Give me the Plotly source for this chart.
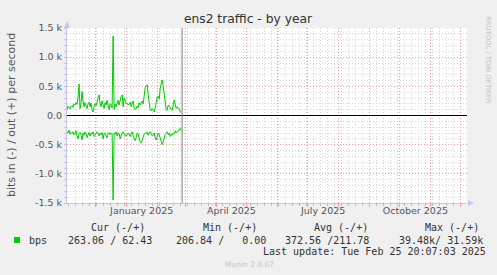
import plotly.graph_objects as go
import pandas as pd

# ---------------- data ----------------
start_date = "2024-11-03"
x_start = "2024-11-03"
x_end = "2025-12-07"
last_update = "2025-02-25 20:07:03"

bps_out = [100, 160, 130, 110, 150, 170, 140, 200, 180,
           220, 190, 300, 540,
           120, 200, 411, 250, 150, 220, 180,
           120, 200, 230, 150, 210, 100, 60, 150, 200, 170,
           250, 300, 354, 200, 150, 250, 180, 120, 220, 180,
           260, 150, 100, 200, 180, 130, 1365, 100, 200, 150,
           230, 260, 180, 290, 320, 354, 150, 300, 250,
           200, 210, 180, 200, 230, 150, 210, 250, 140, 100,
           120, 160, 130, 220, 180, 230, 250, 200, 350, 480,
           510, 525, 350, 200, 100, 80, 120, 90, 60, 130,
           200, 320, 330, 280, 470, 560, 611, 500, 350, 150,
           90, 100, 180, 170, 120, 100, 90, 200, 268, 180,
           120, 150, 130, 110, 60, 62]

bps_in = [280, 300, 250, 320, 290, 310, 280, 330, 300, 260,
          350, 400, 310, 290, 330, 420, 300, 340, 280, 310,
          380, 330, 290, 350, 300, 320, 280, 360, 330, 300,
          280, 310, 350, 300, 330, 290, 400, 320, 300, 350,
          380, 310, 290, 330, 300, 310, 1450, 300, 320, 280,
          350, 300, 310, 400, 330, 300, 280, 320, 350, 350,
          310, 300, 330, 360, 310, 280, 350, 400, 430, 380,
          300, 320, 400, 450, 474, 420, 360, 320, 300, 310,
          280, 340, 300, 280, 320, 350, 330, 300, 380, 420,
          360, 300, 330, 400, 460, 500, 450, 380, 320, 300,
          280, 330, 300, 360, 320, 340, 300, 310, 260, 300,
          280, 250, 240, 220, 263]

y_tick_vals = [-1500, -1000, -500, 0, 500, 1000, 1500]
y_tick_text = ["-1.5 k", "-1.0 k", "-0.5 k", "0.0", "0.5 k", "1.0 k", "1.5 k"]
x_label_vals = ["2025-01-16 12:00", "2025-04-16", "2025-07-16 12:00", "2025-10-16 12:00"]
x_label_text = ["January 2025", "April 2025", "July 2025", "October 2025"]

legend_headers = ["Cur (-/+)", "Min (-/+)", "Avg (-/+)", "Max (-/+)"]
legend_values = ["263.06 / 62.43", "206.84 /   0.00", "372.56 /211.78", "39.48k/ 31.59k"]
series_name = "bps"
last_update_text = "Last update: Tue Feb 25 20:07:03 2025"
version_text = "Munin 2.0.67"

dates = pd.date_range(start_date, periods=len(bps_out), freq="D")

# ---------------- style ----------------
W, H = 497, 275
L, R, T, B = 67, 467, 28, 203
GREEN = "#00CC00"
RED_GRID = "#EBA0A0"
GRAY_GRID = "#D6D6D6"
AXIS = "#C4C4F4"
DOT = "1px,2px"


def px(x):
    return (x - L) / (R - L)


def py(y):
    return (B - y) / (B - T)


fig = go.Figure()
fig.add_trace(go.Scatter(x=dates, y=bps_out, mode="lines",
                         line=dict(color=GREEN, width=1), showlegend=False,
                         hoverinfo="skip"))
fig.add_trace(go.Scatter(x=dates, y=[-v for v in bps_in], mode="lines",
                         line=dict(color=GREEN, width=1), showlegend=False,
                         hoverinfo="skip"))
fig.add_trace(go.Scatter(x=[], y=[], xaxis="x2", showlegend=False))

fig.update_layout(
    width=W, height=H,
    margin=dict(l=L, r=W - R, t=T, b=H - B, pad=0),
    paper_bgcolor="#F0F0F0", plot_bgcolor="#FFFFFF",
    font=dict(family="DejaVu Sans", color="#555555"),
    title=dict(text="ens2 traffic - by year", x=248 / W, y=1 - 19 / H,
               xanchor="center", yanchor="middle", xref="paper" if False else "container",
               font=dict(size=12.3, color="#333333", family="DejaVu Sans")),
    xaxis=dict(type="date", range=[x_start, x_end],
               tick0="2024-11-01", dtick="M1",
               showgrid=True, gridcolor=RED_GRID, griddash=DOT, gridwidth=1,
               showticklabels=False, ticks="outside", ticklen=3, tickcolor=RED_GRID,
               showline=True, linecolor=AXIS, linewidth=1, zeroline=False,
               minor=dict(tick0="2024-11-04", dtick=7 * 86400000, showgrid=True,
                          gridcolor=GRAY_GRID, griddash=DOT, ticks="outside",
                          ticklen=2, tickcolor="#BBBBBB"),
               fixedrange=True),
    xaxis2=dict(type="date", range=[x_start, x_end], overlaying="x", anchor="y",
                side="bottom", tickmode="array", tickvals=x_label_vals,
                ticktext=x_label_text, showgrid=False, showline=False,
                zeroline=False, ticks="", ticklen=0,
                tickfont=dict(size=9.5, color="#555555", family="DejaVu Sans")),
    yaxis=dict(range=[-1500, 1500], tickmode="array", tickvals=y_tick_vals,
               ticktext=y_tick_text, showgrid=True, gridcolor=RED_GRID,
               griddash=DOT, zeroline=True, zerolinecolor="#000000",
               zerolinewidth=1, showline=True, linecolor=AXIS, linewidth=1,
               ticks="outside", ticklen=2, tickcolor=AXIS,
               tickfont=dict(size=9.5, color="#555555", family="DejaVu Sans"),
               minor=dict(tick0=0, dtick=100, showgrid=True, gridcolor=GRAY_GRID,
                          griddash=DOT, ticks="outside", ticklen=2, tickcolor=AXIS),
               fixedrange=True),
)

# now line
fig.add_shape(type="line", xref="x", yref="paper", x0=last_update, x1=last_update,
              y0=0, y1=1, line=dict(color="#808080", width=1))

# axis arrows
fig.add_shape(type="path", xref="paper", yref="paper",
              path=f"M {px(64)},{py(28)} L {px(70)},{py(28)} L {px(67)},{py(21)} Z",
              fillcolor=AXIS, line=dict(color=AXIS, width=0))
fig.add_shape(type="path", xref="paper", yref="paper",
              path=f"M {px(468)},{py(200)} L {px(468)},{py(206)} L {px(474)},{py(203)} Z",
              fillcolor=AXIS, line=dict(color=AXIS, width=0))

# legend swatch
fig.add_shape(type="rect", xref="paper", yref="paper",
              x0=px(14), x1=px(20), y0=py(243), y1=py(237),
              fillcolor=GREEN, line=dict(width=0))

ann = []
# y axis title
ann.append(dict(text="bits in (-) / out (+) per second", x=px(11), y=py(115),
                xref="paper", yref="paper", showarrow=False, textangle=-90,
                xanchor="center", yanchor="middle",
                font=dict(size=11, color="#555555", family="DejaVu Sans")))
# rrdtool credit
ann.append(dict(text="RRDTOOL / TOBI OETIKER", x=px(488), y=py(60),
                xref="paper", yref="paper", showarrow=False, textangle=90,
                xanchor="center", yanchor="middle",
                font=dict(size=6.8, color="#C0C0C0", family="DejaVu Sans")))

mono = dict(size=10, color="#333333", family="DejaVu Sans Mono")
header_x = [89, 201, 312, 423]
value_x = [66, 174, 283, 397]
for hx, t in zip(header_x, legend_headers):
    ann.append(dict(text=t.replace(" ", "\u00a0"), x=px(hx), y=py(227.3), xref="paper",
                    yref="paper", showarrow=False, xanchor="left", yanchor="middle",
                    font=mono))
for vx, t in zip(value_x, legend_values):
    ann.append(dict(text=t.replace(" ", "\u00a0"), x=px(vx), y=py(240), xref="paper",
                    yref="paper", showarrow=False, xanchor="left", yanchor="middle",
                    font=mono))
ann.append(dict(text=series_name, x=px(27), y=py(240), xref="paper", yref="paper",
                showarrow=False, xanchor="left", yanchor="middle", font=mono))
ann.append(dict(text=last_update_text.replace(" ", "\u00a0"), x=px(261), y=py(251.7),
                xref="paper", yref="paper", showarrow=False, xanchor="left",
                yanchor="middle", font=mono))
ann.append(dict(text=version_text, x=px(223), y=py(264), xref="paper", yref="paper",
                showarrow=False, xanchor="left", yanchor="middle",
                font=dict(size=7.5, color="#C4C4C4", family="DejaVu Sans")))

fig.update_layout(annotations=ann)

fig.write_html("out.html")
